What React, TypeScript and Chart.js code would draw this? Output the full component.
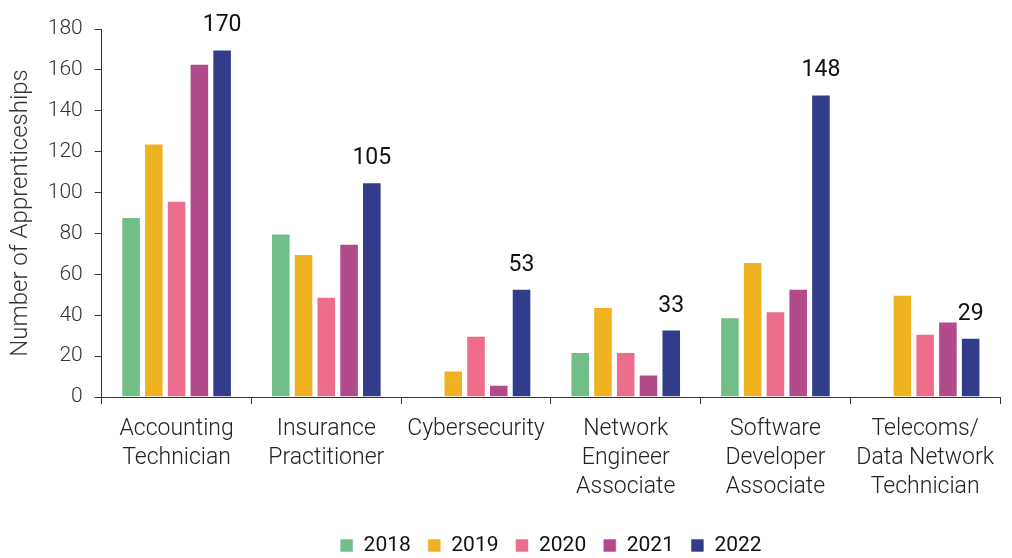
import React, { useEffect, useRef } from "react";
import { Chart, registerables } from "chart.js";

Chart.register(...registerables);

const categories: (string | string[])[] = [
  ["Accounting", "Technician"],
  ["Insurance", "Practitioner"],
  "Cybersecurity",
  ["Network", "Engineer", "Associate"],
  ["Software", "Developer", "Associate"],
  ["Telecoms/", "Data Network", "Technician"],
];

const years = ["2018", "2019", "2020", "2021", "2022"];
const v2018: (number | null)[] = [88, 80, null, 22, 39, null];
const v2019: (number | null)[] = [124, 70, 13, 44, 66, 50];
const v2020: (number | null)[] = [96, 49, 30, 22, 42, 31];
const v2021: (number | null)[] = [163, 75, 6, 11, 53, 37];
const v2022: (number | null)[] = [170, 105, 53, 33, 148, 29];
const colors = ["#71BE87", "#EFB322", "#ED6E8C", "#B34B8B", "#333C8B"];
const yTicks = [0, 20, 40, 60, 80, 100, 120, 140, 160, 180];

const FONT = "Roboto, 'Noto Sans', sans-serif";

const valueLabels = {
  id: "valueLabels",
  afterDatasetsDraw(chart: any) {
    const ctx = chart.ctx;
    const idx = chart.data.datasets.length - 1;
    const meta = chart.getDatasetMeta(idx);
    const data = chart.data.datasets[idx].data;
    ctx.save();
    ctx.font = `400 23px ${FONT}`;
    ctx.fillStyle = "#111111";
    ctx.textAlign = "center";
    ctx.textBaseline = "alphabetic";
    meta.data.forEach((el: any, i: number) => {
      const v = data[i];
      if (v == null) return;
      ctx.fillText(String(v), el.x, el.y - 18);
    });
    ctx.restore();
  },
};

export default function App() {
  const ref = useRef<HTMLCanvasElement | null>(null);
  useEffect(() => {
    if (!ref.current) return;
    const series = [v2018, v2019, v2020, v2021, v2022];
    const chart = new Chart(ref.current, {
      type: "bar",
      data: {
        labels: categories as any,
        datasets: years.map((y, i) => ({
          label: y,
          data: series[i] as any,
          backgroundColor: colors[i],
          borderColor: "rgba(255,255,255,0.55)",
          borderWidth: 1,
          categoryPercentage: 0.76,
          barPercentage: 0.86,
        })),
      },
      options: {
        animation: false,
        responsive: false,
        maintainAspectRatio: false,
        layout: { padding: { top: 29, right: 12, left: 4, bottom: -8 } },
        plugins: {
          legend: {
            position: "bottom",
            fullSize: false,
            labels: {
              boxWidth: 13,
              boxHeight: 13,
              padding: 17,
              color: "#111111",
              font: { family: FONT, size: 21, weight: 400 as any },
            },
          },
          tooltip: { enabled: false },
        },
        scales: {
          x: {
            afterFit: (scale: any) => {
              scale.height += 5;
            },
            grid: {
              display: true,
              drawOnChartArea: false,
              drawTicks: true,
              tickLength: 7,
              color: "#333333",
              offset: true,
            },
            border: { display: true, color: "#333333", width: 1 },
            ticks: {
              color: "#222222",
              font: { family: FONT, size: 23, weight: 300 as any, lineHeight: 1.26 },
              padding: 11,
              maxRotation: 0,
              autoSkip: false,
            },
          },
          y: {
            min: 0,
            max: 180,
            afterBuildTicks: (axis: any) => {
              axis.ticks = yTicks.map((v) => ({ value: v }));
            },
            grid: {
              display: true,
              drawOnChartArea: false,
              drawTicks: true,
              tickLength: 7,
              color: "#333333",
            },
            border: { display: true, color: "#333333", width: 1 },
            ticks: {
              color: "#333333",
              font: { family: FONT, size: 21, weight: 300 as any },
              padding: 12,
            },
            title: {
              display: true,
              text: "Number of Apprenticeships",
              color: "#333333",
              font: { family: FONT, size: 24, weight: 300 as any },
              padding: { top: 3, bottom: 0 },
            },
          },
        },
      },
      plugins: [valueLabels],
    });
    return () => chart.destroy();
  }, []);
  return (
    <div style={{ position: "fixed", left: 0, top: 0, width: 1012, height: 558, background: "#fff" }}>
      <canvas ref={ref} width={1012} height={558} style={{ width: 1012, height: 558, display: "block" }} />
    </div>
  );
}
